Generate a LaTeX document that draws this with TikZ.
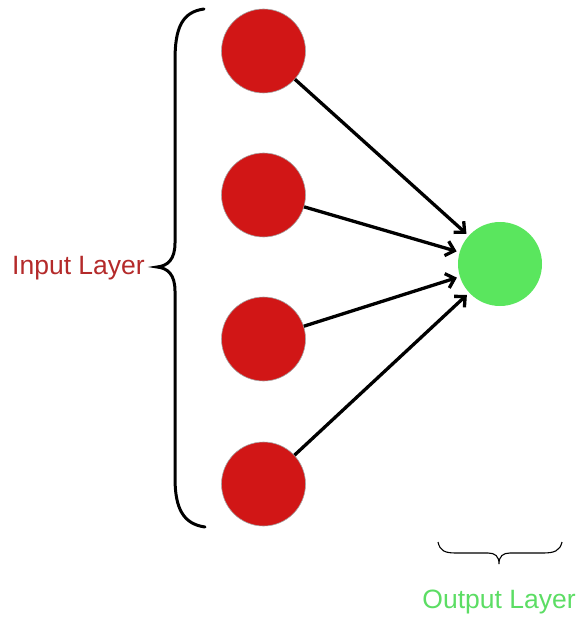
\documentclass[tikz,border=0pt]{standalone}
\usepackage{fontspec}
\setmainfont{Liberation Sans}
\usetikzlibrary{arrows.meta}
\definecolor{neuronred}{HTML}{D11616}
\definecolor{neurongreen}{HTML}{5AE65E}
\definecolor{inlabel}{HTML}{B42A2A}
\definecolor{outlabel}{HTML}{5CDD64}
\tikzset{
  inneuron/.style={circle, fill=neuronred, draw=gray!70, line width=0.6pt, minimum size=84pt, inner sep=0pt},
  outneuron/.style={circle, fill=neurongreen, minimum size=84pt, inner sep=0pt},
  link/.style={line width=3.3pt, -{Straight Barb[length=8pt, width=15pt, line width=3.3pt]}, shorten >=3pt},
  bracepath/.style={line width=3pt, line cap=round},
  layerlabel/.style={font=\fontsize{26.5}{30}\selectfont, inner sep=0pt}
}
\begin{document}
\begin{tikzpicture}[x=1pt, y=-1pt]
  \useasboundingbox (0,0) rectangle (580,617);

  % input neurons
  \node[inneuron] (i1) at (263.5,51) {};
  \node[inneuron] (i2) at (263.5,195) {};
  \node[inneuron] (i3) at (263.5,339) {};
  \node[inneuron] (i4) at (263.5,484) {};

  % output neuron
  \node[outneuron] (o) at (500,264) {};

  % connections
  \foreach \n in {i1,i2,i3,i4}
    \draw[link] (\n) -- (o);

  % brace around the input layer
  \draw[bracepath] (204,9) .. controls (182,12) and (175,28) .. (175,60)
    -- (175,243) .. controls (175,259) and (168,266) .. (157,267)
    .. controls (168,268) and (175,275) .. (175,291)
    -- (175,478) .. controls (175,508) and (183,524) .. (205,527);
  \node[layerlabel, text=inlabel, anchor=base west] (inlbl) at (12,274) {Input Layer};

  % brace under the output layer
  \draw[line width=1.1pt] (438,542) .. controls (440,551) and (445,553) .. (456,553)
    -- (488,553) .. controls (495,553) and (499,556) .. (499,564)
    .. controls (499,556) and (503,553) .. (510,553)
    -- (543,553) .. controls (554,553) and (560,551) .. (562,542);
  \node[layerlabel, text=outlabel, anchor=base] (outlbl) at (499,608) {Output Layer};
\end{tikzpicture}
\end{document}
